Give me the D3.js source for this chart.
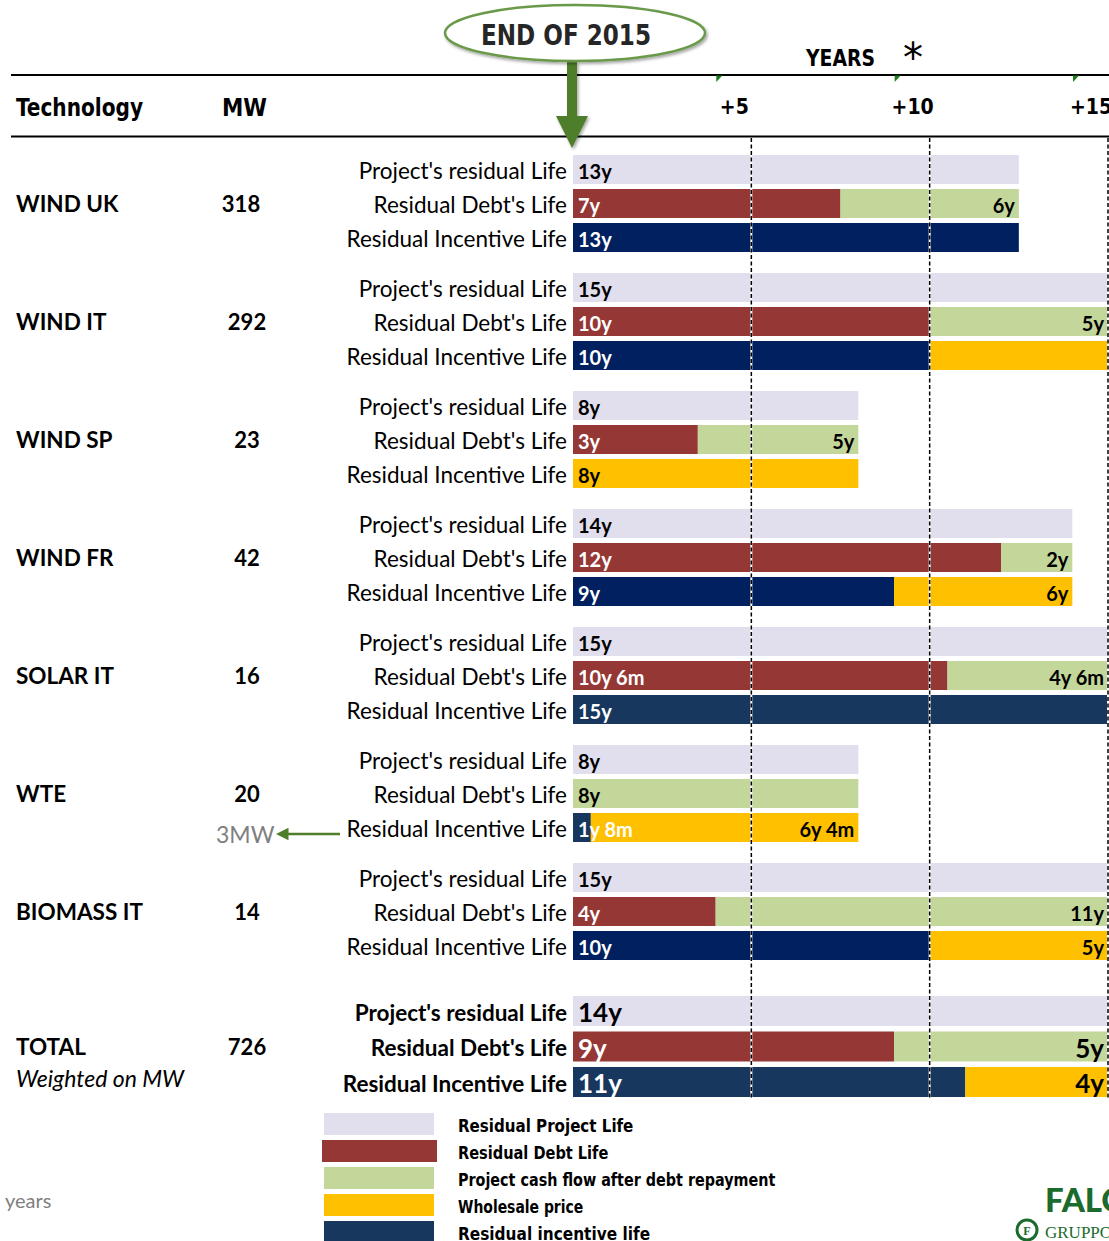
<!DOCTYPE html>
<html><head><meta charset="utf-8">
<script src="https://cdn.jsdelivr.net/npm/d3@7"></script>
<style>body{margin:0;background:#fff}svg{display:block}</style>
</head><body>
<svg id="chart" width="1109" height="1241"></svg>
<script>
// ---------------- DATA ----------------
const categories = ["WIND UK","WIND IT","WIND SP","WIND FR","SOLAR IT","WTE","BIOMASS IT","TOTAL"];
const mwValues = ["318","292","23","42","16","20","14","726"];
const projectLife = [12.5,15,8,14,15,8,15,15];
const projectLabels = ["13y","15y","8y","14y","15y","8y","15y","14y"];
const debtLife = [7.5,10,3.5,12,10.5,0,4,9];
const debtLabels = ["7y","10y","3y","12y","10y 6m","","4y","9y"];
const afterDebt = [5,5,4.5,2,4.5,8,11,6];
const afterDebtLabels = ["6y","5y","5y","2y","4y 6m","8y","11y","5y"];
const incentiveLife = [12.5,10,0,9,15,0.5,10,11];
const incentiveLabels = ["13y","10y","","9y","15y","1y 8m","10y","11y"];
const incentiveShade = ["dark","dark","dark","dark","light","light","dark","light"];
const wholesale = [0,5,8,5,0,7.5,5,4];
const wholesaleLabels = ["","","8y","6y","","6y 4m","5y","4y"];
const tickValues = [5,10,15];
const tickLabels = ["+5","+10","+15"];
const rowNames = ["Project's residual Life","Residual Debt's Life","Residual Incentive Life"];
const legendLabels = ["Residual Project Life","Residual Debt Life","Project cash flow after debt repayment","Wholesale price","Residual incentive life"];

// ---------------- STYLE ----------------
const C = {
  project:"#E1DFED", debt:"#953735", after:"#C4D79B", whole:"#FFC000",
  navyDark:"#002060", navyLight:"#17375E", green:"#4F7E2A", logo:"#1B6B2C"
};
const legendColors = [C.project,C.debt,C.after,C.whole,C.navyLight];
const SANS = "Lato, 'Open Sans', sans-serif";
const COND = "'Liberation Sans Narrow','DejaVu Sans Condensed','Roboto Condensed',Lato,sans-serif";

const svg = d3.select("#chart");
const x = d3.scaleLinear().domain([0,15]).range([573,1108]);

const groupIdx = d3.range(categories.length);
const isTotal = i => i === categories.length - 1;
const groupTop = d3.scaleLinear().domain([0,1]).range([155,273]);
const gTop = i => isTotal(i) ? 996 : groupTop(i);
const rowStep = i => isTotal(i) ? 35.5 : 34;
const barH = i => isTotal(i) ? 30 : 29;
const rowY = (i,r) => gTop(i) + r*rowStep(i);
const rowMid = (i,r) => rowY(i,r) + barH(i)/2;

// ---------- header ----------
svg.append("line").attr("x1",11).attr("x2",1109).attr("y1",75).attr("y2",75).attr("stroke","#000").attr("stroke-width",2);
svg.append("line").attr("x1",11).attr("x2",1109).attr("y1",136.5).attr("y2",136.5).attr("stroke","#000").attr("stroke-width",2);

svg.append("text").attr("x",16).attr("y",108).attr("dominant-baseline","central")
  .attr("font-family",COND).attr("font-weight","bold").attr("font-size",24)
  .attr("textLength",127).attr("lengthAdjust","spacingAndGlyphs").text("Technology");
svg.append("text").attr("x",222).attr("y",108).attr("dominant-baseline","central")
  .attr("font-family",COND).attr("font-weight","bold").attr("font-size",24)
  .attr("textLength",45).attr("lengthAdjust","spacingAndGlyphs").text("MW");

svg.append("text").attr("x",806).attr("y",58).attr("dominant-baseline","central")
  .attr("font-family",COND).attr("font-weight","bold").attr("font-size",23)
  .attr("textLength",69).attr("lengthAdjust","spacingAndGlyphs").text("YEARS");
svg.append("text").attr("x",913).attr("y",72).attr("text-anchor","middle")
  .attr("font-family","'DejaVu Sans',sans-serif").attr("font-size",40).text("*");

// ticks
const tickG = svg.append("g");
tickValues.forEach((t,k) => {
  tickG.append("text").attr("x",x(t)-17).attr("y",107).attr("text-anchor","middle").attr("dominant-baseline","central")
    .attr("font-family",COND).attr("font-weight","bold").attr("font-size",21).text(tickLabels[k]);
  const tx = x(t)-35;
  tickG.append("path").attr("d",`M${tx},75.5 L${tx+6},75.5 L${tx},82 Z`).attr("fill","#1A7F1A");
});

// ---------- bars ----------
const barsG = svg.append("g");
const segs = [];
groupIdx.forEach(i => {
  segs.push({i, r:0, x0:0, x1:projectLife[i], fill:C.project, label:projectLabels[i], tc:"#000"});
  segs.push({i, r:1, x0:0, x1:debtLife[i], fill:C.debt, label:debtLabels[i], tc:"#fff"});
  segs.push({i, r:1, x0:debtLife[i], x1:debtLife[i]+afterDebt[i], fill:C.after, label:afterDebtLabels[i], tc:"#000"});
  const nv = incentiveShade[i]==="dark" ? C.navyDark : C.navyLight;
  segs.push({i, r:2, x0:0, x1:incentiveLife[i], fill:nv, label:incentiveLabels[i], tc:"#fff"});
  segs.push({i, r:2, x0:incentiveLife[i], x1:incentiveLife[i]+wholesale[i], fill:C.whole, label:wholesaleLabels[i], tc:"#000"});
});
barsG.selectAll("rect").data(segs.filter(s => s.x1 > s.x0)).join("rect")
  .attr("x", s => x(s.x0)).attr("width", s => x(s.x1)-x(s.x0))
  .attr("y", s => rowY(s.i,s.r)).attr("height", s => barH(s.i))
  .attr("fill", s => s.fill);

// dashed gridlines
tickValues.forEach(t => {
  svg.append("line").attr("x1",x(t)).attr("x2",x(t)).attr("y1",138).attr("y2",1098)
    .attr("stroke","#fff").attr("stroke-width",2);
  svg.append("line").attr("x1",x(t)).attr("x2",x(t)).attr("y1",138).attr("y2",1098)
    .attr("stroke","#000").attr("stroke-width",1.5).attr("stroke-dasharray","4,2.5");
});

// value labels
svg.append("g").selectAll("text").data(segs.filter(s => s.label && s.x1 > s.x0)).join("text")
  .attr("x", s => s.x0===0 ? x(0)+5 : x(s.x1)-4)
  .attr("text-anchor", s => s.x0===0 ? "start" : "end")
  .attr("y", s => rowMid(s.i,s.r)+1).attr("dominant-baseline","central")
  .attr("font-family",SANS).attr("font-weight","bold")
  .attr("font-size", s => isTotal(s.i) ? 26 : 20)
  .attr("fill", s => s.tc).text(s => s.label);

// row names
const rowG = svg.append("g");
groupIdx.forEach(i => {
  rowNames.forEach((nm,r) => {
    rowG.append("text").attr("x",567).attr("y",rowMid(i,r)+1).attr("text-anchor","end").attr("dominant-baseline","central")
      .attr("font-family",SANS).attr("font-size",22.5)
      .attr("font-weight",isTotal(i)?"bold":"normal")
      .text(nm);
  });
  // category & MW
  svg.append("text").attr("x",16).attr("y",rowMid(i,1)).attr("dominant-baseline","central")
    .attr("font-family",SANS).attr("font-weight","bold").attr("font-size",22.5).text(categories[i]);
  svg.append("text").attr("x",i===0?241:247).attr("y",rowMid(i,1)).attr("text-anchor","middle").attr("dominant-baseline","central")
    .attr("font-family",SANS).attr("font-weight","bold").attr("font-size",22).text(mwValues[i]);
});
svg.append("text").attr("x",16).attr("y",1078).attr("dominant-baseline","central")
  .attr("font-family",SANS).attr("font-style","italic").attr("font-size",23).text("Weighted on MW");

// 3MW annotation
svg.append("text").attr("x",216).attr("y",834).attr("dominant-baseline","central")
  .attr("font-family",SANS).attr("font-size",23).attr("fill","#7F7F7F").text("3MW");
const defs = svg.append("defs");
defs.append("marker").attr("id","ah").attr("viewBox","0 0 10 10").attr("refX",2).attr("refY",5)
  .attr("markerWidth",5).attr("markerHeight",5).attr("orient","auto-start-reverse")
  .append("path").attr("d","M0,0 L10,5 L0,10 Z").attr("fill",C.green);
svg.append("line").attr("x1",340).attr("x2",286).attr("y1",834).attr("y2",834)
  .attr("stroke",C.green).attr("stroke-width",2.5).attr("marker-end","url(#ah)");

// END OF 2015 callout
defs.append("filter").attr("id","sh").append("feDropShadow").attr("dx",1.5).attr("dy",2).attr("stdDeviation",1.5).attr("flood-opacity",0.35);
svg.append("path").attr("d","M567,62 L577,62 L577,116 L588,116 L572,148 L556,116 L567,116 Z")
  .attr("fill",C.green).attr("filter","url(#sh)");
svg.append("ellipse").attr("cx",575).attr("cy",33).attr("rx",130).attr("ry",28)
  .attr("fill","#fff").attr("stroke","#6A9A4A").attr("stroke-width",2.5).attr("filter","url(#sh)");
svg.append("text").attr("x",566).attr("y",35).attr("text-anchor","middle").attr("dominant-baseline","central")
  .attr("font-family",COND).attr("font-weight","bold").attr("font-size",29).attr("fill","#262626")
  .attr("textLength",170).attr("lengthAdjust","spacingAndGlyphs").text("END OF 2015");

// legend
const lg = svg.append("g");
const ly = d3.scaleLinear().domain([0,1]).range([1113,1140]);
legendLabels.forEach((lab,k) => {
  lg.append("rect").attr("x", k===1?322:324).attr("width", k===1?115:110)
    .attr("y", ly(k)).attr("height",22).attr("fill",legendColors[k]);
  lg.append("text").attr("x",458).attr("y",ly(k)+12).attr("dominant-baseline","central")
    .attr("font-family",COND).attr("font-weight","bold").attr("font-size",18)
    .attr("textLength", lab.length*8.35).attr("lengthAdjust","spacingAndGlyphs").text(lab);
});

svg.append("text").attr("x",5).attr("y",1200).attr("dominant-baseline","central")
  .attr("font-family",SANS).attr("font-size",20).attr("fill","#7F7F7F").text("years");

// logo
svg.append("text").attr("x",1045).attr("y",1212).attr("font-family",SANS).attr("font-weight",900)
  .attr("font-size",33).attr("fill",C.logo).text("FALCK");
svg.append("circle").attr("cx",1027).attr("cy",1230).attr("r",10).attr("fill","none").attr("stroke",C.logo).attr("stroke-width",3);
svg.append("text").attr("x",1027).attr("y",1235).attr("text-anchor","middle").attr("font-family","'Liberation Serif',serif")
  .attr("font-weight","bold").attr("font-size",12).attr("fill",C.logo).text("F");
svg.append("text").attr("x",1045).attr("y",1238).attr("font-family","'Liberation Serif',serif")
  .attr("font-size",17).attr("fill",C.logo).text("GRUPPO");
</script>
</body></html>
